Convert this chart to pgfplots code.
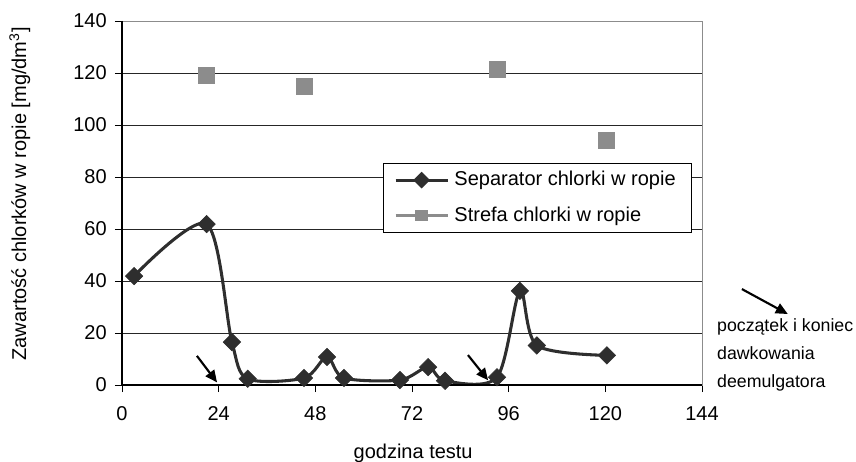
\documentclass[border=0pt]{standalone}
\usepackage{fontspec}
\setmainfont{Liberation Sans}
\usepackage{pgfplots}
\pgfplotsset{compat=1.18}
\usetikzlibrary{arrows.meta}
\definecolor{sepc}{HTML}{2E2E2E}
\definecolor{strc}{HTML}{8C8C8C}
\newcommand{\ff}{\fontsize{15}{18}\selectfont}
\begin{document}
\begin{tikzpicture}
\ff
\useasboundingbox (-91.5pt,-57pt) rectangle (550.5pt,288.75pt);
\begin{axis}[
  at={(0,0)}, anchor=south west,
  scale only axis, width=435pt, height=273pt,
  xmin=0, xmax=144, ymin=0, ymax=140,
  xtick={0,24,...,144}, ytick={0,20,...,140},
  clip=false,
  axis line style={draw=black!45, line width=0.7pt},
  tick align=outside, xtick pos=bottom, ytick pos=left,
  major tick length=5.25pt,
  tick style={black, line width=0.7pt},
  ymajorgrids, grid style={black!85, line width=0.6pt},
  /pgf/number format/assume math mode=true,
  every tick label/.append style={font=\ff},
  xticklabel style={yshift=-6pt},
  yticklabel style={xshift=-1pt},
  xlabel={godzina testu},
  ylabel={Zawartość chlorków w ropie [mg/dm\textsuperscript{3}]},
  label style={font=\ff},
  xlabel style={at={(axis description cs:0.502,-0.187)}, anchor=center},
  ylabel style={at={(axis description cs:-0.176,0.525)}, anchor=center},
  legend style={at={(rel axis cs:0.45,0.61)}, anchor=north west, draw=black, fill=white,
    font=\ff, inner xsep=8pt, inner ysep=4pt, row sep=9.5pt, line width=0.6pt,
    nodes={inner xsep=4pt}},
  legend cell align=left,
]
\addplot[color=sepc, line width=2.3pt, smooth, tension=0.5,
  mark=square*, mark size=4.6pt, mark options={rotate=45, solid, fill=sepc, draw=sepc, line width=0.5pt},
  legend image code/.code={
    \draw[sepc, line width=2.3pt] (0pt,0pt) -- (39pt,0pt);
    \fill[sepc] (19.5pt,-4.6pt) -- (24.1pt,0pt) -- (19.5pt,4.6pt) -- (14.9pt,0pt) -- cycle;}
] coordinates {
(3,41.9) (21,61.9) (27.3,16.5) (31.2,2.4) (45.2,2.7) (50.9,10.8) (55.1,2.7)
(69,1.9) (76,6.9) (80.2,1.6) (93.1,3.0) (98.8,36.2) (103,15.2) (120.4,11.4)
};
\addlegendentry{Separator chlorki w ropie}
\addplot[only marks, mark=square*, mark size=6pt, mark options={fill=strc, draw=strc},
  legend image code/.code={
    \draw[strc, line width=2.3pt] (0pt,0pt) -- (39pt,0pt);
    \fill[strc] (15pt,-3.6pt) rectangle (24pt,3.6pt);}
] coordinates {
(21,119) (45.2,115) (93.1,121.6) (120.2,94.2)
};
\addlegendentry{Strefa chlorki w ropie}
\draw[black, line width=0.8pt] (rel axis cs:0,1) -- (rel axis cs:0,0) -- (rel axis cs:1,0);
\draw[black, line width=1.6pt, -{Triangle[length=9pt,width=8pt]}] (axis cs:18.6,11.2) -- (axis cs:23.6,1.0);
\draw[black, line width=1.6pt, -{Triangle[length=9pt,width=8pt]}] (axis cs:85.9,11.5) -- (axis cs:90.9,1.8);
\draw[black, line width=1.6pt, -{Triangle[length=9pt,width=8pt]}] (axis cs:153.9,36.9) -- (axis cs:165.3,27.3);
\node[anchor=west, align=left, font=\fontsize{13.3}{16}\selectfont, inner sep=0pt] at (axis cs:147.7,11.5)
  {początek i koniec\\[5pt]dawkowania\\[5pt]deemulgatora};
\end{axis}
\end{tikzpicture}
\end{document}
